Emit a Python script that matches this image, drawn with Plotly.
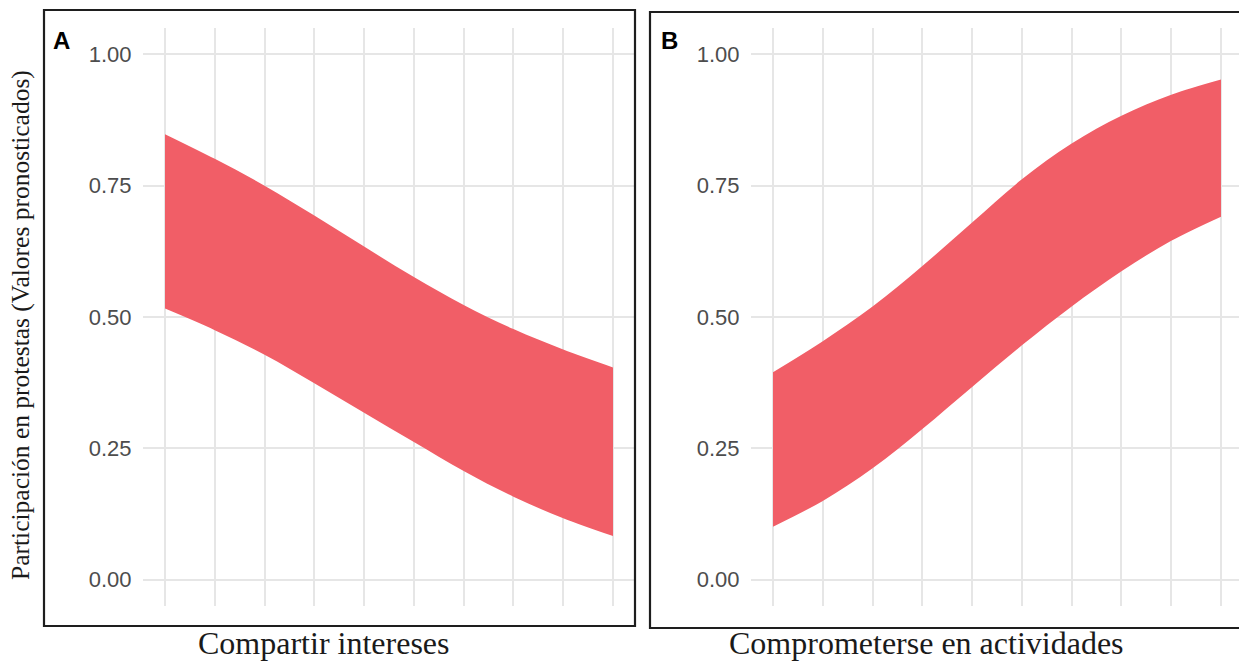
import plotly.graph_objects as go

W, H = 1239, 663

# Data (predicted values)
x_vals = [1, 2, 3, 4, 5, 6, 7, 8, 9, 10]
a_lower = [0.516, 0.475, 0.428, 0.374, 0.318, 0.262, 0.207, 0.158, 0.117, 0.083]
a_upper = [0.848, 0.801, 0.750, 0.693, 0.634, 0.576, 0.523, 0.477, 0.438, 0.404]
b_lower = [0.101, 0.150, 0.212, 0.287, 0.367, 0.446, 0.520, 0.587, 0.645, 0.691]
b_upper = [0.395, 0.454, 0.520, 0.597, 0.680, 0.762, 0.830, 0.883, 0.923, 0.952]
y_ticks = [0.0, 0.25, 0.5, 0.75, 1.0]
y_ticklabels = ["0.00", "0.25", "0.50", "0.75", "1.00"]
panel_labels = ["A", "B"]
x_titles = ["Compartir intereses", "Comprometerse en actividades"]
y_title = "Participación en protestas (Valores pronosticados)"

FILL = "rgb(241,94,103)"
GRID = "#E6E6E6"

def px_x(p):
    return p / W

def px_y(p):
    return 1 - p / H

fig = go.Figure()

for i, (lo, up) in enumerate([(a_lower, a_upper), (b_lower, b_upper)]):
    xa = "x" if i == 0 else "x2"
    ya = "y" if i == 0 else "y2"
    fig.add_trace(go.Scatter(x=x_vals, y=lo, mode="lines", line=dict(width=0, shape="spline", color=FILL),
                             xaxis=xa, yaxis=ya, showlegend=False, hoverinfo="skip"))
    fig.add_trace(go.Scatter(x=x_vals, y=up, mode="lines", line=dict(width=0, shape="spline", color=FILL),
                             fill="tonexty", fillcolor=FILL,
                             xaxis=xa, yaxis=ya, showlegend=False, hoverinfo="skip"))

ydom = [px_y(606), px_y(28)]
common_x = dict(showgrid=True, gridcolor=GRID, gridwidth=2, zeroline=False, showline=False,
                tickmode="array", tickvals=x_vals, showticklabels=False, ticks="")
common_y = dict(showgrid=True, gridcolor=GRID, gridwidth=2, zeroline=False, showline=False,
                tickmode="array", tickvals=y_ticks, ticktext=y_ticklabels, ticks="",
                range=[-0.05, 1.05], tickfont=dict(family="Liberation Sans, Arial", size=22, color="#4D4D4D"),
                ticklabelstandoff=10, domain=ydom)

fig.update_layout(
    width=W, height=H,
    margin=dict(l=0, r=0, t=0, b=0),
    paper_bgcolor="white", plot_bgcolor="white",
    xaxis=dict(domain=[px_x(142.6), px_x(635.4)], range=[0.55, 10.45], anchor="y", **common_x),
    yaxis=dict(anchor="x", **common_y),
    xaxis2=dict(domain=[px_x(750.6), 1.0], range=[0.55, 10.0 + (1239 - 1221) / 49.8], anchor="y2", **common_x),
    yaxis2=dict(anchor="x2", **common_y),
)

# panel borders
fig.add_shape(type="rect", xref="paper", yref="paper",
              x0=px_x(44), x1=px_x(635), y0=px_y(626), y1=px_y(10),
              line=dict(color="#1E1E1E", width=2.2), fillcolor="rgba(0,0,0,0)", layer="above")
fig.add_shape(type="rect", xref="paper", yref="paper",
              x0=px_x(650), x1=px_x(1250), y0=px_y(628), y1=px_y(12),
              line=dict(color="#1E1E1E", width=2.2), fillcolor="rgba(0,0,0,0)", layer="above")

# panel labels
for lab, cx in zip(panel_labels, [61, 669]):
    fig.add_annotation(text="<b>" + lab + "</b>", xref="paper", yref="paper",
                       x=px_x(cx), y=px_y(40), xanchor="center", yanchor="middle", showarrow=False,
                       font=dict(family="Liberation Sans, Arial", size=24, color="black"))

# x titles
for t, cx in zip(x_titles, [323, 926]):
    fig.add_annotation(text=t, xref="paper", yref="paper",
                       x=px_x(cx), y=px_y(643), xanchor="center", yanchor="middle", showarrow=False,
                       font=dict(family="Liberation Serif, Times New Roman", size=32, color="#1A1A1A"))

# y title
fig.add_annotation(text=y_title, xref="paper", yref="paper", textangle=-90,
                   x=px_x(20), y=px_y(325), xanchor="center", yanchor="middle", showarrow=False,
                   font=dict(family="Liberation Serif, Times New Roman", size=25.5, color="#1A1A1A"))

fig.write_html("out.html")
